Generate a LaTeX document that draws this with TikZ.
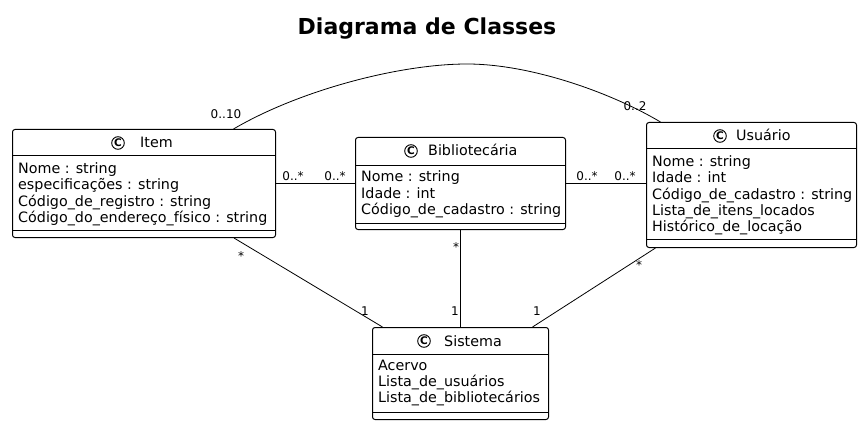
\documentclass[tikz,border=0pt]{standalone}
\usepackage{fontspec}
\setmainfont{DejaVu Sans}
\newcommand\attrfont{\fontsize{14.3}{16.3}\selectfont}
\newcommand\edgefont{\fontsize{12}{13}\selectfont}
\newcommand\titlefont{\bfseries\fontsize{22}{26}\selectfont}
\begin{document}
\begin{tikzpicture}[x=1pt,y=-1pt,
  classbox/.style={draw, line width=1pt, rounded corners=2.5pt, fill=white, inner sep=0pt, anchor=north west},
  sepline/.style={line width=1pt},
  cmark/.style={circle, draw, line width=0.9pt, inner sep=0pt, minimum size=12.6pt, font=\bfseries\fontsize{10.5}{10.5}\selectfont},
  cname/.style={anchor=base west, inner sep=0pt, font=\attrfont},
  attr/.style={anchor=base west, inner sep=0pt, font=\attrfont},
  elabel/.style={anchor=base, inner sep=0pt, font=\edgefont},
  edge/.style={line width=0.8pt}]
\useasboundingbox (0,0) rectangle (862,425);
\fill[white] (0,0) rectangle (862,425);

\node[font=\titlefont, anchor=base, inner sep=0pt] (title) at (427,35) {Diagrama de Classes};

% Item
\node[classbox, minimum width=263pt, minimum height=108pt] (item) at (12,129) {};
\draw[sepline] ([yshift=-27pt]item.north west) -- ([yshift=-27pt]item.north east);
\draw[sepline] ([yshift=8pt]item.south west) -- ([yshift=8pt]item.south east);
\node[cmark] (item-c) at (118,143) {C};
\node[cname] (item-n) at (140,148) {Item};
\foreach \txt [count=\i] in {Nome : string, especificações : string, Código\_de\_registro : string, Código\_do\_endereço\_físico : string}
  \node[attr] (item-a\i) at (18,{173.5+(\i-1)*16.3}) {\txt};

% Bibliotecaria
\node[classbox, minimum width=210pt, minimum height=92pt] (bib) at (355,137) {};
\draw[sepline] ([yshift=-28pt]bib.north west) -- ([yshift=-28pt]bib.north east);
\draw[sepline] ([yshift=7pt]bib.south west) -- ([yshift=7pt]bib.south east);
\node[cmark] (bib-c) at (411,151) {C};
\node[cname] (bib-n) at (428,156) {Bibliotecária};
\foreach \txt [count=\i] in {Nome : string, Idade : int, Código\_de\_cadastro : string}
  \node[attr] (bib-a\i) at (361,{182+(\i-1)*16.3}) {\txt};

% Usuario
\node[classbox, minimum width=210pt, minimum height=125pt] (usu) at (646,122) {};
\draw[sepline] ([yshift=-27pt]usu.north west) -- ([yshift=-27pt]usu.north east);
\draw[sepline] ([yshift=9pt]usu.south west) -- ([yshift=9pt]usu.south east);
\node[cmark] (usu-c) at (720,136) {C};
\node[cname] (usu-n) at (736,141) {Usuário};
\foreach \txt [count=\i] in {Nome : string, Idade : int, Código\_de\_cadastro : string, Lista\_de\_itens\_locados, Histórico\_de\_locação}
  \node[attr] (usu-a\i) at (652,{166.5+(\i-1)*16.3}) {\txt};

% Sistema
\node[classbox, minimum width=176pt, minimum height=92pt] (sis) at (372,327) {};
\draw[sepline] ([yshift=-27pt]sis.north west) -- ([yshift=-27pt]sis.north east);
\draw[sepline] ([yshift=8pt]sis.south west) -- ([yshift=8pt]sis.south east);
\node[cmark] (sis-c) at (424,341) {C};
\node[cname] (sis-n) at (444,346) {Sistema};
\foreach \txt [count=\i] in {Acervo, Lista\_de\_usuários, Lista\_de\_bibliotecários}
  \node[attr] (sis-a\i) at (378,{370+(\i-1)*16.3}) {\txt};

% Edges
\draw[edge] (item.east) -- (item.east -| bib.west);
\draw[edge] (bib.east) -- (bib.east -| usu.west);
\draw[edge] ([xshift=90pt]item.south) -- ([xshift=-78pt]sis.north);
\draw[edge] (bib.south) -- (sis.north);
\draw[edge] ([xshift=-96pt]usu.south) -- ([xshift=72pt]sis.north);
\coordinate (peak) at (467,64);
\draw[edge] ([xshift=89.5pt]item.north) .. controls (300,90) and (400,64) .. (peak)
  .. controls (530,64) and (610,92) .. ([xshift=-91pt]usu.north);

% Edge labels
\node[elabel] (l1) at (293,180.5) {0..*};
\node[elabel] (l2) at (335,180.5) {0..*};
\node[elabel] (l3) at (587,180.5) {0..*};
\node[elabel] (l4) at (625,180.5) {0..*};
\node[elabel] (l5) at (241,260) {*};
\node[elabel] (l6) at (365,315.5) {1};
\node[elabel] (l7) at (456,251) {*};
\node[elabel] (l8) at (455,315.5) {1};
\node[elabel] (l9) at (639,269) {*};
\node[elabel] (l10) at (537,315.5) {1};
\node[elabel] (l11) at (226,118.5) {0..10};
\node[elabel] (l12) at (635,110.5) {0..2};
\end{tikzpicture}
\end{document}
